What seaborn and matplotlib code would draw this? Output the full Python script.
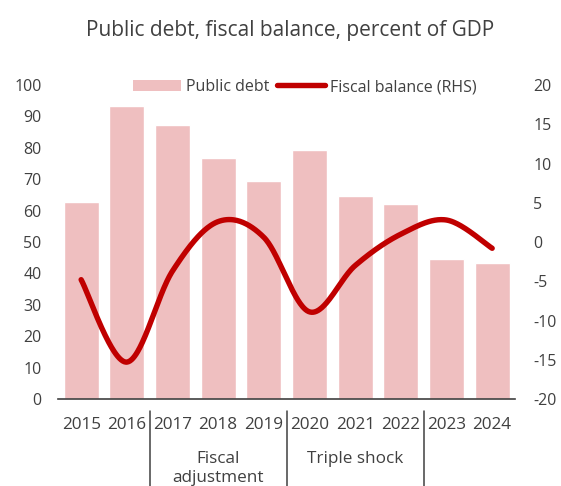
import numpy as np
import pandas as pd
import matplotlib
matplotlib.use("Agg")
import matplotlib.pyplot as plt
import seaborn as sns
from matplotlib.patches import Patch
from matplotlib.lines import Line2D
from matplotlib import transforms

# ---- data ----
years = ["2015", "2016", "2017", "2018", "2019", "2020", "2021", "2022", "2023", "2024"]
public_debt = [62.6, 93.4, 87.2, 76.8, 69.4, 79.2, 64.6, 62.2, 44.6, 43.4]
fiscal_balance = [-4.8, -15.3, -3.7, 2.6, 0.6, -8.9, -3.0, 1.0, 2.8, -0.8]
period_labels = ["Fiscal\nadjustment", "Triple shock"]
period_centers = [3, 6]
period_breaks = [1.5, 4.5, 7.5]
left_ticks = [0, 10, 20, 30, 40, 50, 60, 70, 80, 90, 100]
right_ticks = [-20, -15, -10, -5, 0, 5, 10, 15, 20]

BAR_COLOR = "#EFBFC0"
LINE_COLOR = "#C00000"
TEXT_COLOR = "#404040"

sns.set_theme(style="white")
plt.rcParams["font.family"] = ["Open Sans", "DejaVu Sans"]


def smooth_curve(xs, ys, n=60):
    """Cubic Bezier smoothing through every point (Catmull-Rom style tangents)."""
    pts = np.column_stack([xs, ys]).astype(float)
    padded = np.vstack([pts[0], pts, pts[-1]])
    t = np.linspace(0, 1, n)[:, None]
    pieces = []
    for i in range(len(pts) - 1):
        p0, p1, p2, p3 = padded[i], padded[i + 1], padded[i + 2], padded[i + 3]
        c1 = p1 + (p2 - p0) / 6.0
        c2 = p2 - (p3 - p1) / 6.0
        seg = (1 - t) ** 3 * p1 + 3 * (1 - t) ** 2 * t * c1 + 3 * (1 - t) * t ** 2 * c2 + t ** 3 * p2
        pieces.append(seg if i == 0 else seg[1:])
    return np.vstack(pieces)


fig = plt.figure(figsize=(5.61, 4.86), dpi=100)
ax = fig.add_axes([58.3 / 561, 87 / 486, (515 - 58.3) / 561, (399 - 85) / 486])

df = pd.DataFrame({"year": years, "debt": public_debt})
sns.barplot(data=df, x="year", y="debt", color=BAR_COLOR, saturation=1,
            width=0.77, ax=ax, zorder=2)
ax.set_xlim(-0.5, len(years) - 0.5)
ax.set_ylim(0, 100)
ax.set_yticks(left_ticks)
ax.set_xlabel("")
ax.set_ylabel("")
for side in ["top", "right", "left"]:
    ax.spines[side].set_visible(False)
ax.spines["bottom"].set_color(TEXT_COLOR)
ax.spines["bottom"].set_linewidth(1.2)
ax.spines["bottom"].set_zorder(5)
ax.tick_params(axis="y", length=0, labelsize=11.5, labelcolor=TEXT_COLOR, pad=12)
ax.tick_params(axis="x", length=0, labelsize=12.3, labelcolor=TEXT_COLOR, pad=13)

# fiscal balance on the right-hand axis
ax2 = ax.twinx()
curve = smooth_curve(np.arange(len(years)), fiscal_balance)
ax2.plot(curve[:, 0], curve[:, 1], color=LINE_COLOR, lw=3.9,
         solid_capstyle="round", solid_joinstyle="round")
ax2.set_ylim(-20, 20)
ax2.set_yticks(right_ticks)
ax2.set_yticklabels([str(v) for v in right_ticks])
for side in ax2.spines:
    ax2.spines[side].set_visible(False)
ax2.tick_params(axis="y", length=0, labelsize=11.5, labelcolor=TEXT_COLOR, pad=13)
ax2.grid(False)
ax.grid(False)

# period brackets under the year labels
blend = transforms.blended_transform_factory(ax.transData, fig.transFigure)
for xb in period_breaks:
    ax.add_line(Line2D([xb, xb], [1 - 410.5 / 486, 0], transform=blend,
                       color=TEXT_COLOR, lw=1.1, clip_on=False))
for label, xc in zip(period_labels, period_centers):
    ax.text(xc, 1 - 451 / 486, label, transform=blend, ha="center", va="top",
            fontsize=12.3, color=TEXT_COLOR, linespacing=1.25, multialignment="center")

# title
fig.text(290 / 561, 1 - 36 / 486, "Public debt, fiscal balance, percent of GDP",
         ha="center", va="baseline", fontsize=15, color=TEXT_COLOR)

# legend
handles = [Patch(facecolor=BAR_COLOR, edgecolor="none"),
           Line2D([0], [0], color=LINE_COLOR, lw=3.9, solid_capstyle="round")]
fig.legend(handles, ["Public debt", "Fiscal balance (RHS)"], loc="center",
           bbox_to_anchor=(304.7 / 561, 1 - 87 / 486), ncol=2, frameon=False,
           fontsize=11.5, labelcolor=TEXT_COLOR, handlelength=3.0,
           handleheight=0.75, handletextpad=0.3, columnspacing=0.5)

fig.savefig("out.png", dpi=100)
